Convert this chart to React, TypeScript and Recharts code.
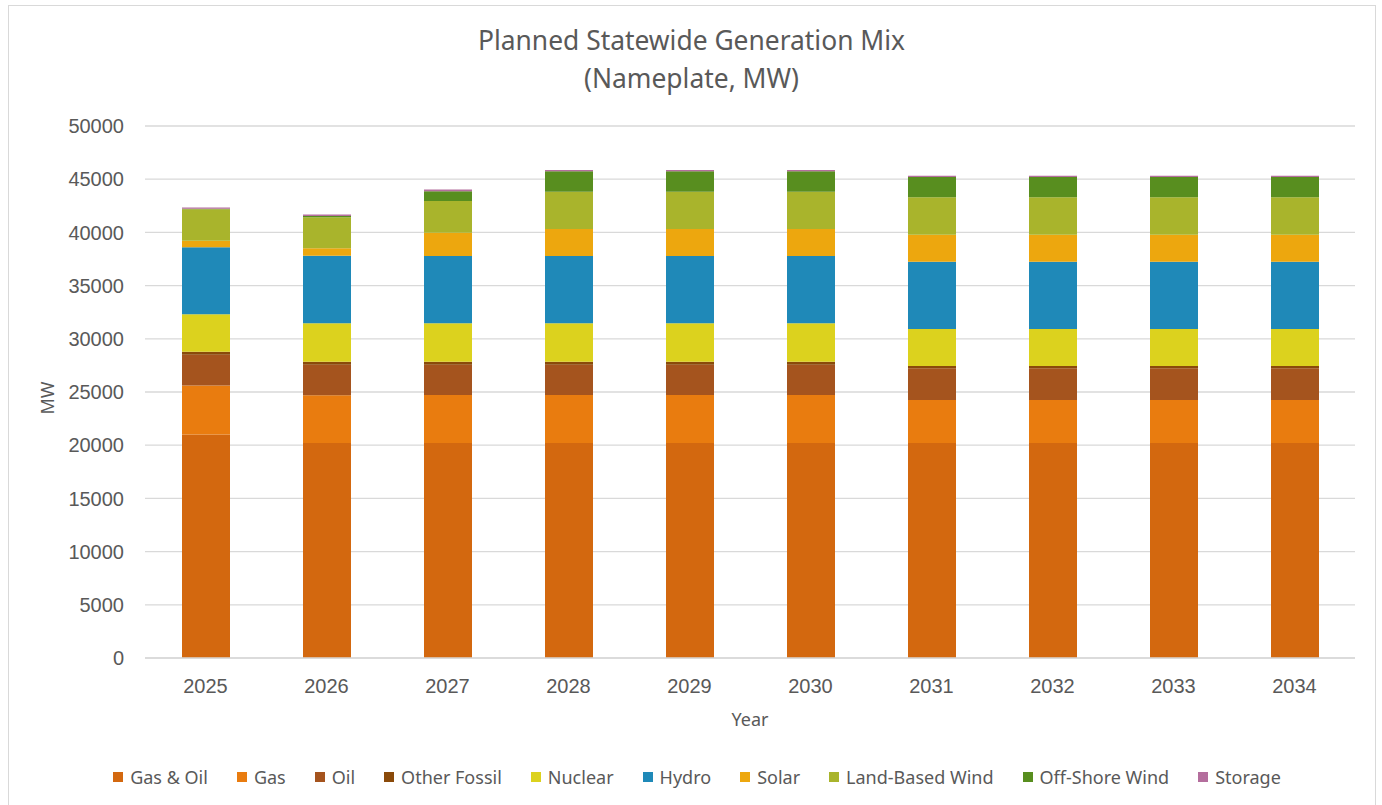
import React from 'react';
import { BarChart, Bar, XAxis, YAxis, CartesianGrid } from 'recharts';

const years = ['2025', '2026', '2027', '2028', '2029', '2030', '2031', '2032', '2033', '2034'];
const gasOil = [21000, 20200, 20200, 20200, 20200, 20200, 20200, 20200, 20200, 20200];
const gas = [4600, 4500, 4520, 4520, 4520, 4520, 4050, 4050, 4050, 4050];
const oil = [2900, 2870, 2850, 2850, 2850, 2850, 2980, 2980, 2980, 2980];
const otherFossil = [280, 280, 280, 280, 280, 280, 210, 210, 210, 210];
const nuclear = [3520, 3610, 3610, 3610, 3610, 3610, 3480, 3480, 3480, 3480];
const hydro = [6300, 6350, 6320, 6320, 6320, 6320, 6330, 6330, 6330, 6330];
const solar = [620, 700, 2190, 2540, 2540, 2540, 2530, 2530, 2530, 2530];
const landWind = [2950, 2910, 2980, 3510, 3510, 3510, 3520, 3520, 3520, 3520];
const offshoreWind = [60, 110, 910, 1910, 1910, 1910, 1910, 1910, 1910, 1910];
const storage = [110, 150, 170, 120, 120, 120, 120, 120, 120, 120];
const yTicks = [0, 5000, 10000, 15000, 20000, 25000, 30000, 35000, 40000, 45000, 50000];

const series = [
  { key: 'gasOil', name: 'Gas & Oil', values: gasOil, color: '#D3680F' },
  { key: 'gas', name: 'Gas', values: gas, color: '#E97C0F' },
  { key: 'oil', name: 'Oil', values: oil, color: '#A5541E' },
  { key: 'otherFossil', name: 'Other Fossil', values: otherFossil, color: '#8A4A0A' },
  { key: 'nuclear', name: 'Nuclear', values: nuclear, color: '#DCD21E' },
  { key: 'hydro', name: 'Hydro', values: hydro, color: '#1F89B8' },
  { key: 'solar', name: 'Solar', values: solar, color: '#EDA70E' },
  { key: 'landWind', name: 'Land-Based Wind', values: landWind, color: '#A9B42C' },
  { key: 'offshoreWind', name: 'Off-Shore Wind', values: offshoreWind, color: '#588E1F' },
  { key: 'storage', name: 'Storage', values: storage, color: '#B46E9D' },
];

const data = years.map((y, i) => {
  const row: Record<string, string | number> = { year: y };
  series.forEach((s) => {
    row[s.key] = s.values[i];
  });
  return row;
});

const textColor = '#595959';
const uiFont = '"Noto Sans", "Open Sans", sans-serif';
const numFont = '"Liberation Sans", Arial, sans-serif';

export default function App() {
  return (
    <div style={{ position: 'relative', width: 1382, height: 805, overflow: 'hidden', background: '#fff' }}>
      <style>{`html,body{margin:0;padding:0;overflow:hidden;background:#fff}`}</style>
      <div
        style={{
          position: 'absolute',
          left: 8,
          top: 5,
          width: 1368,
          height: 805,
          border: '1px solid #d9d9d9',
          boxSizing: 'border-box',
        }}
      />
      <div
        style={{
          position: 'absolute',
          left: 0,
          top: 21,
          width: 1383,
          textAlign: 'center',
          fontFamily: uiFont,
          fontSize: 26.4,
          lineHeight: '38px',
          color: textColor,
        }}
      >
        <div>Planned Statewide Generation Mix</div>
        <div>(Nameplate, MW)</div>
      </div>
      <div style={{ position: 'absolute', left: 0, top: 0 }}>
        <BarChart
          width={1382}
          height={805}
          data={data}
          margin={{ top: 126, right: 27, bottom: 87, left: 0 }}
          barSize={48}
        >
          <CartesianGrid vertical={false} stroke="#d9d9d9" strokeWidth={1.3} />
          <XAxis
            dataKey="year"
            height={60}
            axisLine={{ stroke: '#d9d9d9', strokeWidth: 1.3 }}
            tickLine={false}
            tickSize={0}
            tickMargin={21}
            tick={{ fill: textColor, fontSize: 20, fontFamily: numFont }}
            interval={0}
          />
          <YAxis
            width={145}
            domain={[0, 50000]}
            ticks={yTicks}
            axisLine={false}
            tickLine={false}
            tickSize={0}
            tickMargin={21}
            tick={{ fill: textColor, fontSize: 20, fontFamily: numFont }}
            interval={0}
          />
          {series.map((s) => (
            <Bar
              key={s.key}
              dataKey={s.key}
              name={s.name}
              stackId="a"
              fill={s.color}
              isAnimationActive={false}
            />
          ))}
        </BarChart>
      </div>
      <div
        style={{
          position: 'absolute',
          left: 35,
          top: 384,
          width: 24,
          height: 28,
          display: 'flex',
          alignItems: 'center',
          justifyContent: 'center',
        }}
      >
        <div
          style={{
            transform: 'rotate(-90deg)',
            fontFamily: uiFont,
            fontSize: 18,
            color: textColor,
            whiteSpace: 'nowrap',
          }}
        >
          MW
        </div>
      </div>
      <div
        style={{
          position: 'absolute',
          left: 145,
          width: 1210,
          top: 706,
          textAlign: 'center',
          fontFamily: uiFont,
          fontSize: 18,
          lineHeight: '26px',
          color: textColor,
        }}
      >
        Year
      </div>
      <div
        style={{
          position: 'absolute',
          left: 0,
          width: 1394,
          top: 763,
          display: 'flex',
          justifyContent: 'center',
          gap: 29,
          fontFamily: uiFont,
          fontSize: 18,
          lineHeight: '28px',
          color: textColor,
        }}
      >
        {series.map((s) => (
          <div key={s.key} style={{ display: 'flex', alignItems: 'center', whiteSpace: 'nowrap' }}>
            <span style={{ display: 'inline-block', width: 10, height: 10, background: s.color, marginRight: 7 }} />
            <span>{s.name}</span>
          </div>
        ))}
      </div>
    </div>
  );
}
